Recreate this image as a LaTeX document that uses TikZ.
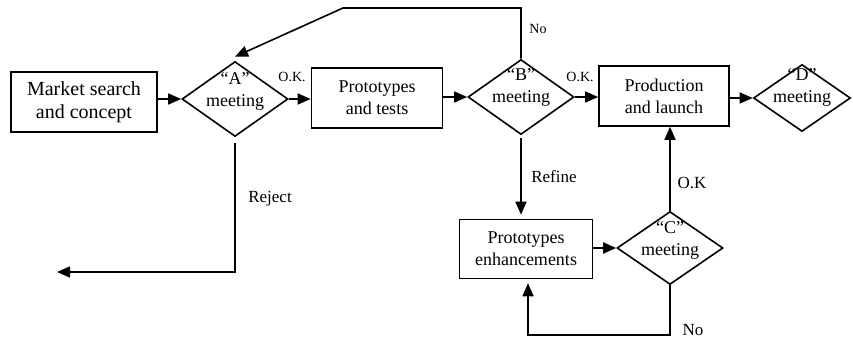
\documentclass[tikz,border=0pt]{standalone}
\usepackage{fontspec}
\setmainfont{Liberation Serif}
\usetikzlibrary{shapes.geometric,arrows.meta}

\begin{document}
\begin{tikzpicture}[x=1pt,y=-1pt,
  box/.style={draw,line width=1.6pt,minimum height=60pt,align=center,
    font=\fontsize{18}{22}\selectfont},
  meet/.style={draw,line width=1.6pt,diamond,inner sep=0pt,
    minimum width=106pt,minimum height=75pt},
  meettext/.style={align=center,inner sep=0pt,font=\fontsize{18}{22}\selectfont},
  flow/.style={line width=1.6pt,-{Triangle[length=13pt,width=11pt]}},
  small/.style={font=\fontsize{14}{16}\selectfont},
  lbl/.style={font=\fontsize{17}{19}\selectfont}]
  \useasboundingbox (0,0) rectangle (853,340);
  %
  \node[box,minimum width=146pt,font=\fontsize{20}{23}\selectfont] (market) at (84,102) {Market search\\and concept};
  \node[meet] (A) at (235,99) {};
  \node[meettext] (Atext) at ([yshift=8pt]A.center) {“A”\\meeting};
  %
  \node[box,minimum width=131pt] (proto) at (377,98) {Prototypes\\and tests};
  \node[meet] (B) at (521,97) {};
  \node[meettext] (Btext) at ([yshift=10pt]B.center) {“B”\\meeting};
  %
  \node[box,minimum width=130pt] (prod) at (664,96) {Production\\and launch};
  \node[meet,minimum width=97pt,minimum height=67pt] (D) at (802,98) {};
  \node[meettext] (Dtext) at ([yshift=11pt]D.center) {“D”\\meeting};
  %
  \node[box,minimum width=133pt,minimum height=59pt] (enh) at (526,249) {Prototypes\\enhancements};
  \node[meet,minimum height=73pt] (C) at (670,248) {};
  \node[meettext] (Ctext) at ([yshift=8pt]C.center) {“C”\\meeting};
  %
  \coordinate (nobend) at (343,8);
  \coordinate (rejend) at (57,272);
  \coordinate (loopC) at (528,335);
  %
  \draw[flow] (market.east |- A.west) -- (A.west);
  \draw[flow] (A.east) -- (proto.west |- A.east);
  \draw[flow] (proto.east |- B.west) -- (B.west);
  \draw[flow] (B.east) -- (prod.west |- B.east);
  \draw[flow] (prod.east |- D.west) -- (D.west);
  \draw[flow] (B.north) |- (nobend) -- ([yshift=4pt]A.north);
  \draw[flow,shorten <=6pt] (A.south) |- (rejend);
  \draw[flow,shorten <=3pt,shorten >=4pt] (B.south) -- (B.south |- enh.north);
  \draw[flow] (enh.east |- C.west) -- (C.west);
  \draw[flow] (C.north) -- (C.north |- prod.south);
  \draw[flow,shorten >=4pt] (C.south) |- (loopC) -- (loopC |- enh.south);
  %
  \node[small] (okA) at (292,77) {O.K.};
  \node[small] (okB) at (580,77) {O.K.};
  \node[small] (noB) at (538,29) {No};
  \node[lbl] (reject) at (270,199) {Reject};
  \node[lbl] (refine) at (554,177) {Refine};
  \node[lbl] (okC) at (692,183) {O.K};
  \node[lbl] (noC) at (693,330) {No};
  %
\end{tikzpicture}
\end{document}
